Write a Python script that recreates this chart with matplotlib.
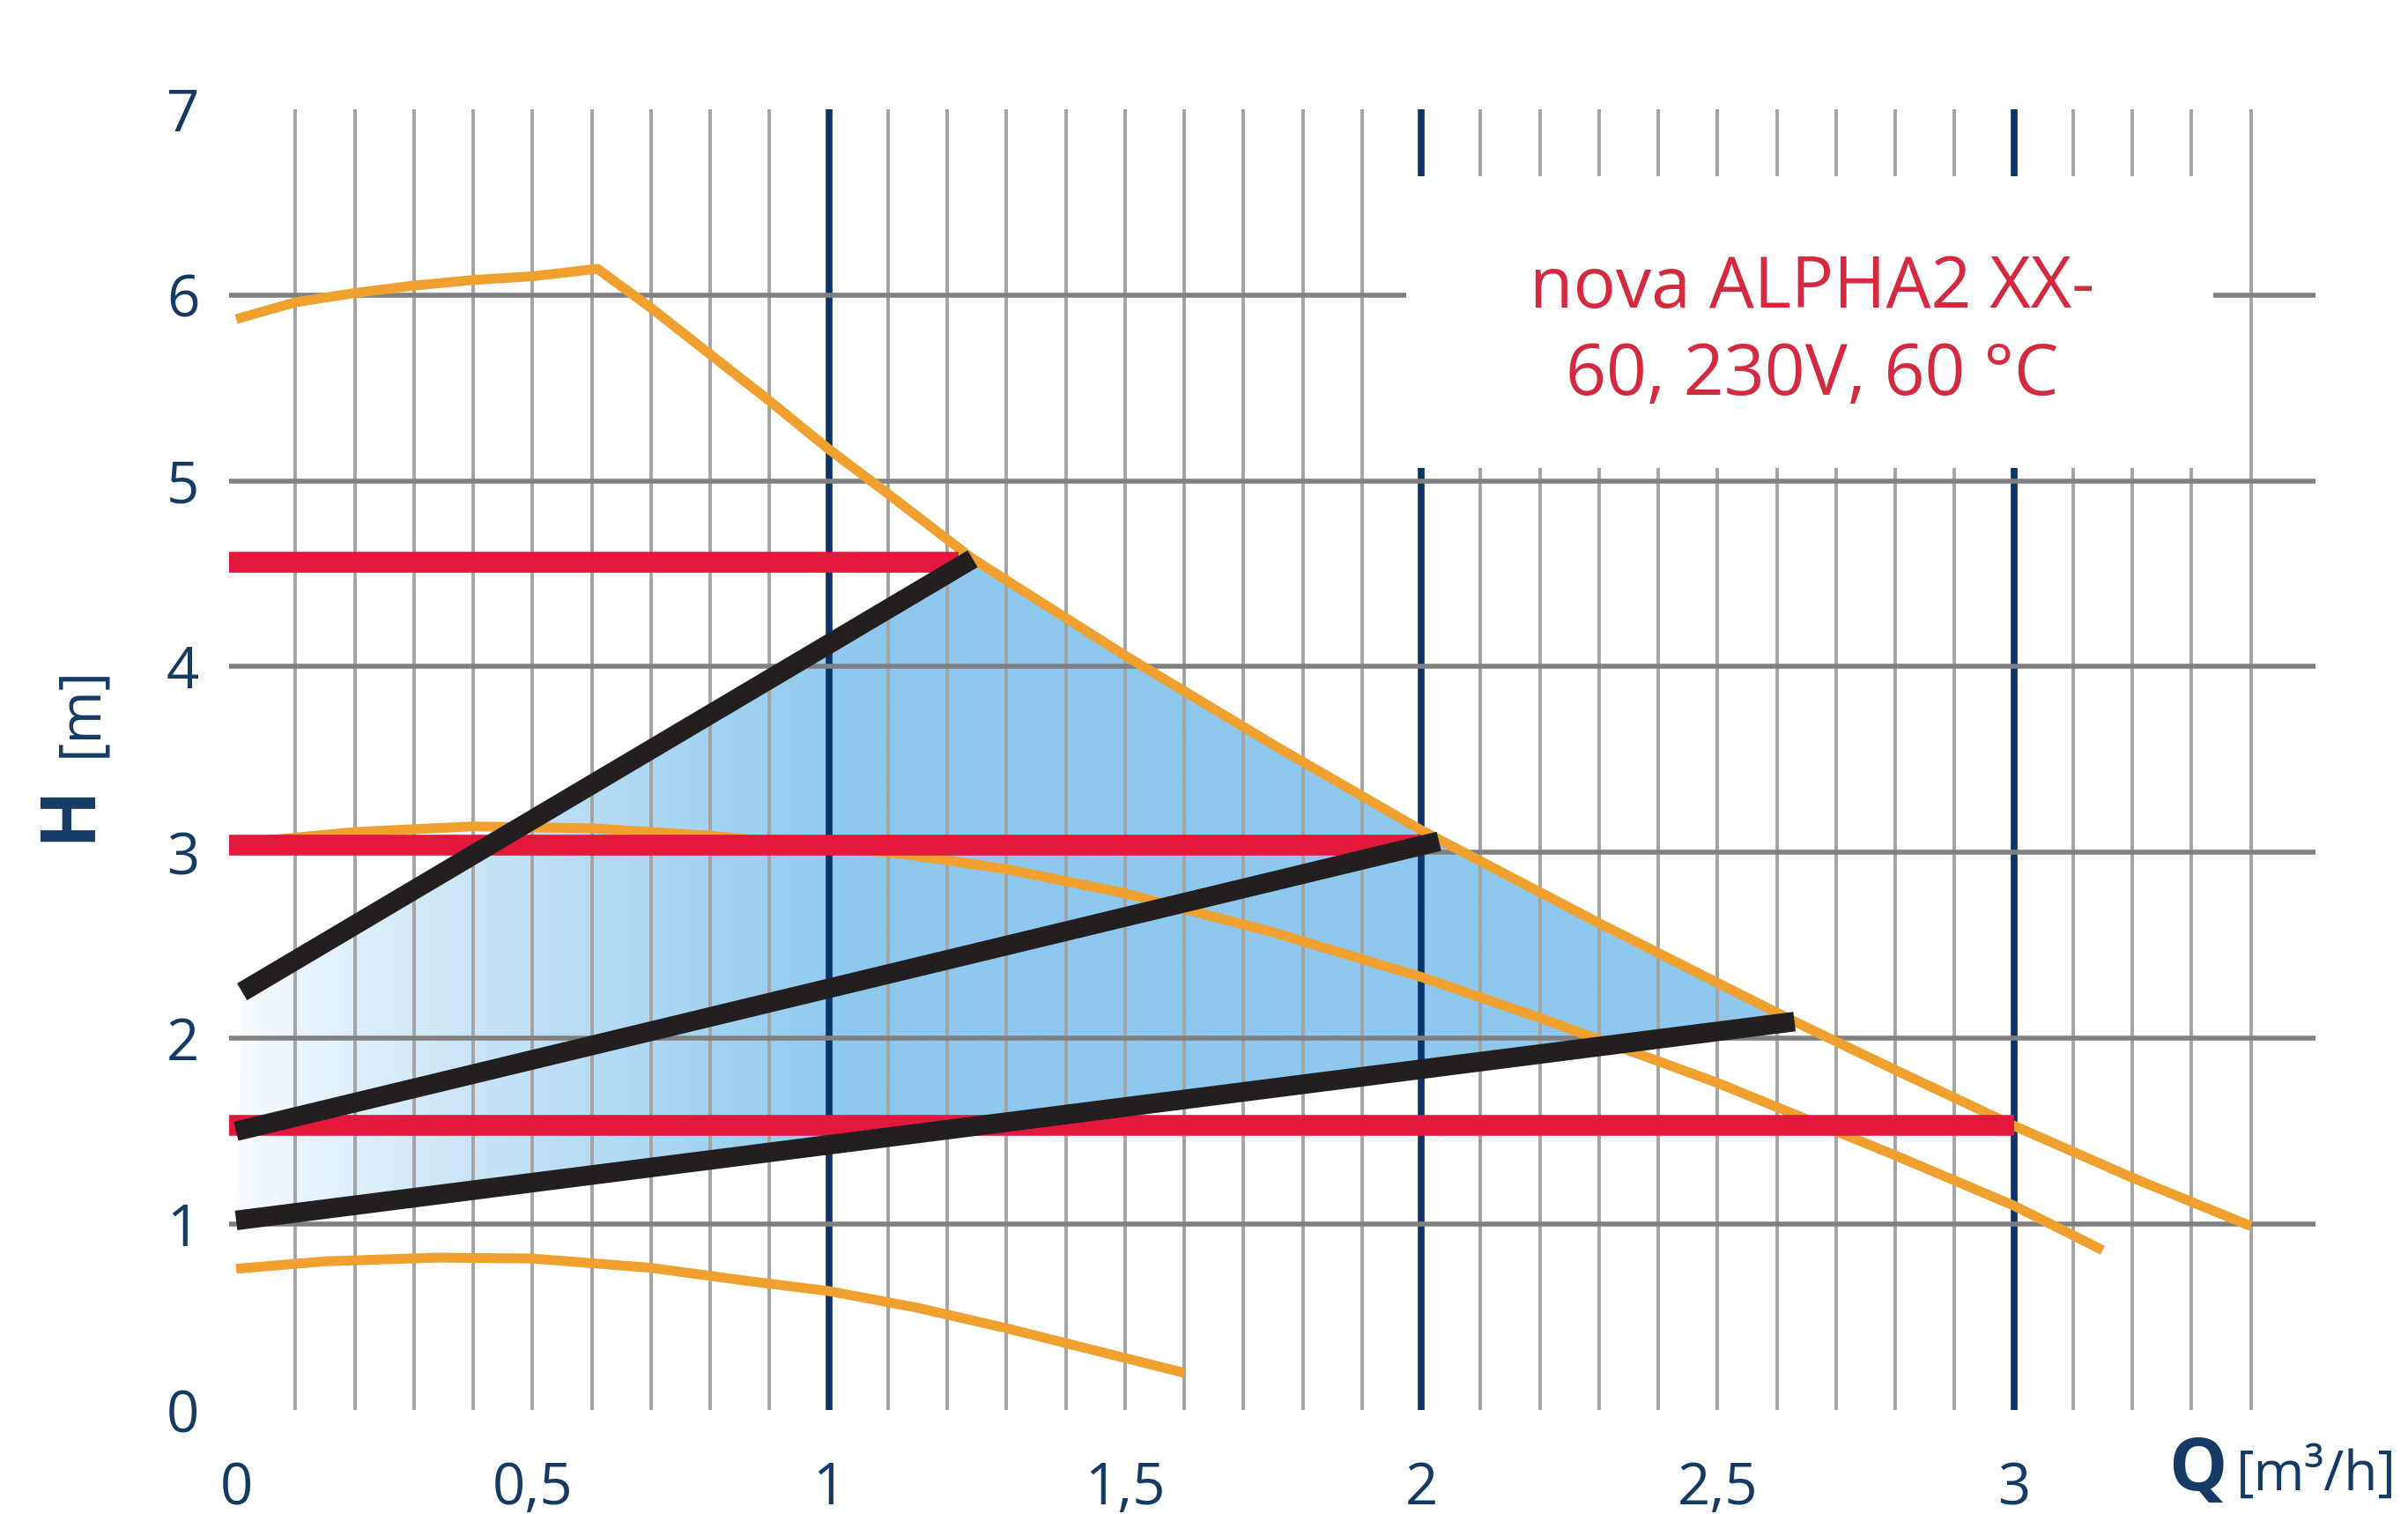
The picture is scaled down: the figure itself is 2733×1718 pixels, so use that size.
import numpy as np
import matplotlib
matplotlib.use("Agg")
import matplotlib.pyplot as plt
from matplotlib.patches import Polygon, Rectangle

# ---------------- data ----------------
max_q = [0, 0.1, 0.2, 0.3, 0.4, 0.5, 0.61, 0.7, 0.8, 0.9, 1.0, 1.1, 1.243, 1.5, 1.75, 2.0, 2.3, 2.63, 2.8, 3.0, 3.2, 3.4]
max_h = [5.87, 5.96, 6.01, 6.05, 6.08, 6.10, 6.14, 5.93, 5.68, 5.43, 5.17, 4.93, 4.58, 4.06, 3.58, 3.12, 2.62, 2.09, 1.83, 1.53, 1.25, 0.99]

mid_q = [0, 0.2, 0.4, 0.6, 0.8, 1.0, 1.13, 1.3, 1.5, 1.75, 2.0, 2.2, 2.5, 2.8, 3.0, 3.15]
mid_h = [3.05, 3.11, 3.14, 3.13, 3.09, 3.03, 2.99, 2.91, 2.78, 2.57, 2.33, 2.11, 1.76, 1.37, 1.10, 0.86]

low_q = [0, 0.15, 0.34, 0.5, 0.7, 0.85, 1.0, 1.15, 1.3, 1.45, 1.6]
low_h = [0.76, 0.80, 0.82, 0.815, 0.765, 0.70, 0.64, 0.55, 0.44, 0.32, 0.20]

# constant pressure (red) levels
cp_h = [4.56, 3.04, 1.53]
cp_qmax = [1.22, 2.0, 3.0]

# proportional pressure (black) lines
pp_q0 = [0.01, 0.0, 0.0]
pp_h0 = [2.25, 1.50, 1.02]
pp_q1 = [1.243, 2.03, 2.63]
pp_h1 = [4.58, 3.06, 2.09]

x_ticks = [0, 0.5, 1, 1.5, 2, 2.5, 3]
x_labels = ["0", "0,5", "1", "1,5", "2", "2,5", "3"]
y_ticks = [0, 1, 2, 3, 4, 5, 6, 7]
y_labels = ["0", "1", "2", "3", "4", "5", "6", "7"]

title_lines = ["nova ALPHA2 XX-", "60, 230V, 60 °C"]

# ---------------- style ----------------
NAVY = "#153a64"
NAVY_LINE = "#0b3468"
ORANGE = "#F0A02E"
RED = "#E2183C"
BLACK = "#231F20"
TXT_RED = "#D42A40"
FILL = np.array([0x8E, 0xC8, 0xEE]) / 255.0
FONT = "Open Sans"

fig = plt.figure(figsize=(27.33, 17.18), dpi=100)
W, H = 2733, 1718
x0px, xs = 268.0, 672.5
y0px, ys = 1600.0, 210.9
xl = (-0.06, 3.56)
yl = (-0.06, 7.06)
left = (x0px + xl[0] * xs) / W
bottom = (H - (y0px - yl[0] * ys)) / H
ax = fig.add_axes([left, bottom, (xl[1] - xl[0]) * xs / W, (yl[1] - yl[0]) * ys / H])
ax.set_xlim(*xl)
ax.set_ylim(*yl)
for s in ax.spines.values():
    s.set_visible(False)
ax.set_facecolor("white")

# grid
for i in range(1, 35):
    q = i / 10.0
    if i % 10 == 0:
        ax.plot([q, q], [0, 7], color=NAVY_LINE, lw=5.5, zorder=2, solid_capstyle="butt")
    else:
        ax.plot([q, q], [0, 7], color="#a3a3a3", lw=2.8, zorder=2, solid_capstyle="butt")
for h in range(1, 7):
    ax.plot([-0.012, 3.51], [h, h], color="#808080", lw=4.0, zorder=2, solid_capstyle="butt")

# gradient fill region
top_q = [pp_q0[0], pp_q1[0]]
top_h = [pp_h0[0], pp_h1[0]]
poly = list(zip(top_q, top_h))
poly += [(q, h) for q, h in zip(max_q, max_h) if pp_q1[0] < q < pp_q1[2]]
poly += [(pp_q1[2], pp_h1[2]), (pp_q0[2], pp_h0[2])]
patch = Polygon(poly, closed=True, fc="none", ec="none")
ax.add_patch(patch)
gx = np.linspace(0, 2.7, 600)
t = np.clip(gx / 1.05, 0, 1) ** 0.85
t = 0.06 + 0.94 * t
img = np.ones((2, gx.size, 3))
for c in range(3):
    img[:, :, c] = 1 - t * (1 - FILL[c])
im = ax.imshow(img, extent=[0, 2.7, 0.9, 4.7], aspect="auto", zorder=1,
               interpolation="bilinear", origin="lower")
im.set_clip_path(patch)

# white box behind the title
ax.add_patch(Rectangle((1.975, 5.07), 3.337 - 1.975, 6.64 - 5.07, fc="white", ec="none", zorder=3))

# pump curves (orange)
for q, h in [(max_q, max_h), (mid_q, mid_h), (low_q, low_h)]:
    ax.plot(q, h, color=ORANGE, lw=8, zorder=4, solid_joinstyle="round", solid_capstyle="butt")

# constant pressure (red)
for h, qm in zip(cp_h, cp_qmax):
    ax.plot([-0.012, qm], [h, h], color=RED, lw=17, zorder=5, solid_capstyle="butt")

# proportional pressure (black)
for a, b, c, d in zip(pp_q0, pp_h0, pp_q1, pp_h1):
    ax.plot([a, c], [b, d], color=BLACK, lw=16, zorder=6, solid_capstyle="butt", clip_on=False)

# title
ax.text(2.66, 5.93, title_lines[0], color=TXT_RED, fontsize=58, family=FONT,
        ha="center", va="baseline", zorder=7)
ax.text(2.66, 5.46, title_lines[1], color=TXT_RED, fontsize=58, family=FONT,
        ha="center", va="baseline", zorder=7)

# ticks
ax.set_xticks(x_ticks)
ax.set_xticklabels(x_labels)
ax.set_yticks(y_ticks)
ax.set_yticklabels(y_labels)
ax.tick_params(axis="both", length=0, labelsize=47, labelcolor=NAVY)
ax.tick_params(axis="y", pad=1)
ax.tick_params(axis="x", pad=32)
for lab in ax.get_xticklabels() + ax.get_yticklabels():
    lab.set_family(FONT)

# axis titles
ax.text(-0.282, 3.215, "H", rotation=90, fontsize=62, fontweight="bold", color=NAVY,
        family=FONT, ha="center", va="center", clip_on=False)
ax.text(-0.262, 3.76, "[m]", rotation=90, fontsize=47, color=NAVY,
        family=FONT, ha="center", va="center", clip_on=False)
ax.text(3.31, -0.43, "Q", fontsize=60, fontweight="bold", color=NAVY,
        family=FONT, ha="center", va="baseline", clip_on=False)
ax.text(3.375, -0.43, "[m³/h]", fontsize=45, color=NAVY,
        family=FONT, ha="left", va="baseline", clip_on=False)

fig.savefig("out.png", dpi=100, facecolor="white")
